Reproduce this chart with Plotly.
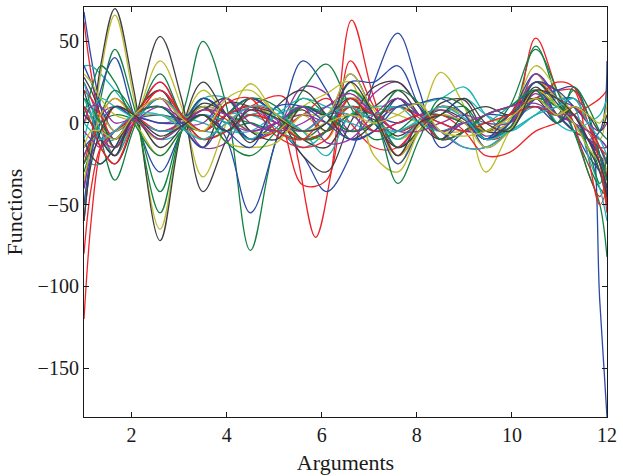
import plotly.graph_objects as go

# shared argument knots
X = [1.0, 1.15, 1.35, 1.65, 2.05, 2.6, 3.05, 3.5, 4.0, 4.5, 5.05, 5.6, 6.1, 6.6,
     7.1, 7.6, 8.05, 8.5, 9.0, 9.45, 9.95, 10.5, 10.95, 11.3, 11.6, 11.85, 12.0]
# knots for the red curve with the deep dip near 5.9
X_r1 = [1.0, 1.15, 1.35, 1.65, 2.05, 2.6, 3.05, 3.5, 4.0, 4.5, 5.2, 5.5, 5.87, 6.2, 6.63,
        7.1, 7.6, 8.05, 8.5, 9.0, 9.45, 9.95, 10.5, 10.95, 11.3, 11.6, 11.85, 12.0]

x_ticks = [2, 4, 6, 8, 10, 12]
y_ticks = [-150, -100, -50, 0, 50]

# function values
b1 = [68, 40, 10, -15, 0, 15, 5, -5, 5, 10, 0, -10, -5, 10, 5, 0, 5, 0, -5, -5, 5, 20, 15, 15, 5, -110, -180]
g1 = [-20, -10, 0, 5, 2, -10, 5, 50, 10, -78, -10, 15, 5, -5, 0, 10, 5, -5, 0, -5, 5, 25, 10, 0, -10, -30, -50]
r1 = [-120, -60, -15, 10, 5, -5, 0, 5, -5, 10, 16, -22, -70, -30, 63, 15, -20, -5, 5, 0, -5, 0, 20, 10, 5, -5, -20, -50]
c1 = [35, 35, 30, 20, 5, -10, -5, 15, 15, -5, -5, 5, 10, 15, 0, -10, 0, 5, 15, 5, 0, 15, 10, 0, -10, -25, -35]
m1 = [-20, -10, 5, 10, 3, -5, 0, 15, 5, -10, -3, 22, 18, -5, 0, 10, 5, 5, 0, -5, 5, 20, 10, 5, -5, -20, -35]
y1 = [-50, -20, 30, 66, 15, -65, -5, 20, 5, -5, 0, 5, -5, 10, 5, -10, -2, 10, 5, -10, 2, 30, 10, 5, -10, -20, -30]
k1 = [-40, -10, 35, 70, 20, -72, -5, 25, 5, -10, 0, 8, -5, 5, 2, -8, 0, 8, 2, -10, 0, 22, 5, -5, -10, -15, -25]

b2 = [-50, -20, 0, 10, 3, -10, 0, 10, 5, -10, -5, -20, -42, -20, 25, 55, 20, -15, -5, 5, 5, 20, 5, -5, -20, -30, -40]
g2 = [-30, -15, 15, 45, 10, -55, -5, 15, 5, 0, -5, -10, 0, 10, 5, -5, 0, 5, 0, -10, 0, 47, 15, -5, -25, -40, -45]
r2 = [62, 30, 0, -20, 0, 20, 5, -10, 0, 10, 5, -38, -35, 38, 10, -5, 0, 5, 0, -10, -5, 52, 20, 0, -30, -45, -30]
c2 = [-20, -25, -25, -15, 5, 20, 5, -5, 5, 5, -3, -15, -5, 20, 5, -10, 0, 5, 0, -10, 0, 10, 5, 0, -15, -30, -45]
m2 = [25, 15, 0, -15, 3, 25, 5, -15, -12, 10, 2, -10, -5, 15, 5, -15, 0, 10, 5, -8, 0, 25, 15, 5, -10, -20, -25]
y2 = [15, 10, 0, -15, 0, 38, 10, -33, 0, 24, 5, -5, -10, 15, 10, 5, 0, -5, -5, 0, 5, 35, 20, 5, -5, -10, 30]
k2 = [20, 5, -15, -25, 0, 53, 15, -42, -10, 15, 5, -10, -15, 5, 10, 20, 5, -10, -5, 5, 10, 15, 5, 0, -10, -20, -35]

b3 = [35, 25, 10, -5, 2, 5, 3, 10, -10, -55, -10, 38, 20, -10, -5, 15, 5, -5, 0, -5, 5, 30, 15, 0, -10, -20, -30]
g3 = [10, 5, -10, -35, -3, 30, 5, -10, -5, 0, -5, 20, 36, 10, -10, -5, 5, 5, 0, -5, 10, 45, 20, -5, -30, -50, -82]
r3 = [-25, -10, 5, 15, 5, -10, 0, 8, 2, -10, -5, 5, 15, 0, -15, -15, 0, 10, 5, -5, 5, 25, 20, 20, -20, -50, -40]
c3 = [0, -5, -10, -10, 3, 5, 0, -5, -5, 5, 5, -5, -20, 5, 10, 10, 12, 15, 22, 5, -5, 5, 10, 15, 0, -20, -40]
m3 = [-40, -20, -10, -5, 3, 0, 2, 5, 0, -5, 0, 5, 0, -5, 18, 25, 10, -5, -15, -15, -5, 15, 10, 0, -10, -15, -15]
y3 = [0, 5, 5, -5, 3, 5, -2, -10, 0, 10, 3, -10, -5, 20, 8, -25, 0, 31, 10, -30, -5, 20, 10, 5, -5, -15, -30]
k3 = [28, 20, 5, -15, 5, 20, 0, -15, 12, 10, 5, -20, -30, 0, 22, 25, 10, -5, 0, -10, 0, 20, 10, 5, -5, -10, -15]

b4 = [-60, -20, 20, 40, 5, -30, -5, 15, 5, -10, 0, 10, 5, 30, 5, -25, -5, 10, 5, -15, -5, 15, 20, 22, 5, -20, -45]
g4 = [-25, -15, 5, 20, 5, -42, -5, 10, 0, 5, 0, -10, -5, 5, 5, -15, -5, 5, 10, -5, 5, 10, 5, 20, 5, -20, -35]
r4 = [20, 15, 5, -10, 2, 15, 3, -10, -5, 5, 0, -10, -5, 10, 5, -5, 0, 5, -5, -20, -18, -5, 0, 5, 10, 15, 20]
c4 = [25, 10, -5, -20, 0, 15, 5, 0, -5, -5, 5, 10, 5, 0, -5, -5, 0, -5, -15, -15, -5, 5, 15, 10, -20, -40, -60]
m4 = [10, 0, -10, -15, 0, 10, 3, -5, 5, 8, 0, -5, 5, 5, -5, 0, 5, 8, 0, -10, -3, 30, 15, 10, 0, -5, 0]
y4 = [-35, -15, 5, 15, 3, -10, 0, 10, 5, -5, -5, 10, 18, 25, -20, -30, -5, 10, 5, -5, 0, 25, 15, 5, -5, -15, -25]
k4 = [-10, -20, -25, -15, 5, 10, 2, 8, 15, -5, -10, 10, 5, 15, 0, -15, -5, 12, 14, -5, -3, 25, 12, 0, -15, -30, -45]

b5 = [5, 0, -10, -20, 5, 10, -2, -15, 5, 15, 5, -5, 0, 25, 25, 35, 10, -10, 0, -10, 5, 10, 0, 5, -10, -5, 38]
g5 = [15, 10, 0, -10, 5, 10, 0, -5, 5, 15, 10, -10, -5, 20, 5, -37, -10, 15, 10, -10, -3, 15, 10, 5, -15, -37, -20]
r5 = [-80, -40, -15, -5, 3, 20, 5, -5, 5, 10, -8, -15, -10, 15, 5, 10, 3, -10, -5, 5, 10, 15, 25, 22, 0, -25, -55]
c5 = [-10, 5, 15, 10, 3, -5, -3, 5, 0, -10, 5, 15, 10, 5, 5, 10, 0, -5, 0, 0, 10, 20, 0, -5, 0, 5, 15]
m5 = [-5, -10, -15, -5, 5, 15, 0, 0, 15, 0, -5, 0, 10, 18, 5, -5, -5, 0, 5, 0, 0, 18, 5, 0, -5, -10, -15]
y5 = [30, 25, 15, 5, 0, -20, -5, 5, -12, -15, -12, 5, 5, 30, 5, -20, -5, 5, 0, -15, -5, 20, 10, 0, -15, -25, -40]
k5 = [5, 0, -10, -20, 3, -15, -3, 12, 5, -12, 10, 20, 5, -10, 0, 15, 0, -10, 5, 10, 5, 15, 0, 10, 5, -5, 5]

b6 = [-15, -10, -5, -10, 3, 0, 0, 5, -5, -15, 10, 10, 0, -10, -5, 10, 12, 15, 5, -10, 0, 25, 20, 10, 0, -15, -25]
g6 = [5, 20, 35, 25, 0, -20, -5, 5, -12, -20, -5, 10, 5, -5, 0, 20, 12, -10, -5, 5, 10, 20, 0, 22, 10, -5, -10]
r6 = [10, 0, -15, -25, 0, 25, 5, -5, 12, 15, -5, -10, 5, 10, -5, 0, 5, 0, -5, 0, 5, 10, 5, 10, 0, -15, -20]
c6 = [15, 5, -10, -5, 5, 5, -3, -10, 0, 10, 8, -5, 5, 10, 0, -5, 2, 10, 3, -10, -5, 5, 10, 15, 0, -10, -20]
m6 = [0, 10, 10, 0, 2, -10, -2, 8, 5, -5, 0, 10, -12, -10, 5, 15, 5, -5, 0, 5, 10, 12, 5, 5, -10, -25, -40]
y6 = [-15, -5, -5, -10, 5, 15, 3, -5, 15, 20, 5, -5, 0, 5, 0, 5, 12, -5, -8, -5, 3, 15, 5, 10, 5, 0, 10]
k6 = [-60, -25, -5, 10, 5, -8, -2, 5, -5, 8, 3, -5, 0, 25, 5, -20, 0, 5, 15, 0, -5, 20, 15, 5, -10, -25, -40]

BLUE, GREEN, RED, CYAN, MAG, OLIVE, GRAY = ("#2b4aa6", "#138043", "#ee2227", "#1fb3b5",
                                             "#9433a3", "#bdbb2c", "#3f3f3f")
series = [
    (b1, BLUE), (g1, GREEN), (r1, RED), (c1, CYAN), (m1, MAG), (y1, OLIVE), (k1, GRAY),
    (b2, BLUE), (g2, GREEN), (r2, RED), (c2, CYAN), (m2, MAG), (y2, OLIVE), (k2, GRAY),
    (b3, BLUE), (g3, GREEN), (r3, RED), (c3, CYAN), (m3, MAG), (y3, OLIVE), (k3, GRAY),
    (b4, BLUE), (g4, GREEN), (r4, RED), (c4, CYAN), (m4, MAG), (y4, OLIVE), (k4, GRAY),
    (b5, BLUE), (g5, GREEN), (r5, RED), (c5, CYAN), (m5, MAG), (y5, OLIVE), (k5, GRAY),
    (b6, BLUE), (g6, GREEN), (r6, RED), (c6, CYAN), (m6, MAG), (y6, OLIVE), (k6, GRAY),
]

fig = go.Figure()
for vals, col in series:
    xs = X_r1 if vals is r1 else X
    fig.add_trace(go.Scatter(x=xs, y=vals, mode="lines",
                             line=dict(color=col, width=1.3, shape="spline", smoothing=1.0),
                             showlegend=False, hoverinfo="skip"))

tick_font = dict(family="Liberation Serif", size=20, color="#1a1a1a")
title_font = dict(family="Liberation Serif", size=22, color="#1a1a1a")
axis_common = dict(showgrid=False, zeroline=False, showline=True, linecolor="#1a1a1a",
                   linewidth=1.2, mirror="ticks", ticks="inside", ticklen=5,
                   tickcolor="#1a1a1a", tickwidth=1, tickfont=tick_font)
fig.update_layout(
    width=623, height=476,
    margin=dict(l=84, r=10, t=6, b=59),
    paper_bgcolor="white", plot_bgcolor="white",
    xaxis=dict(range=[1, 12], tickvals=x_ticks,
               title=dict(text="Arguments", font=title_font, standoff=9), **axis_common),
    yaxis=dict(range=[-180, 71], tickvals=y_ticks,
               title=dict(text="Functions", font=title_font, standoff=8), **axis_common),
)
# remove the default page margin so the figure sits at the window's top-left
fig.write_html("out.html", config={"displayModeBar": False},
               post_script="document.body.style.margin='0px';document.body.style.overflow='hidden';")
